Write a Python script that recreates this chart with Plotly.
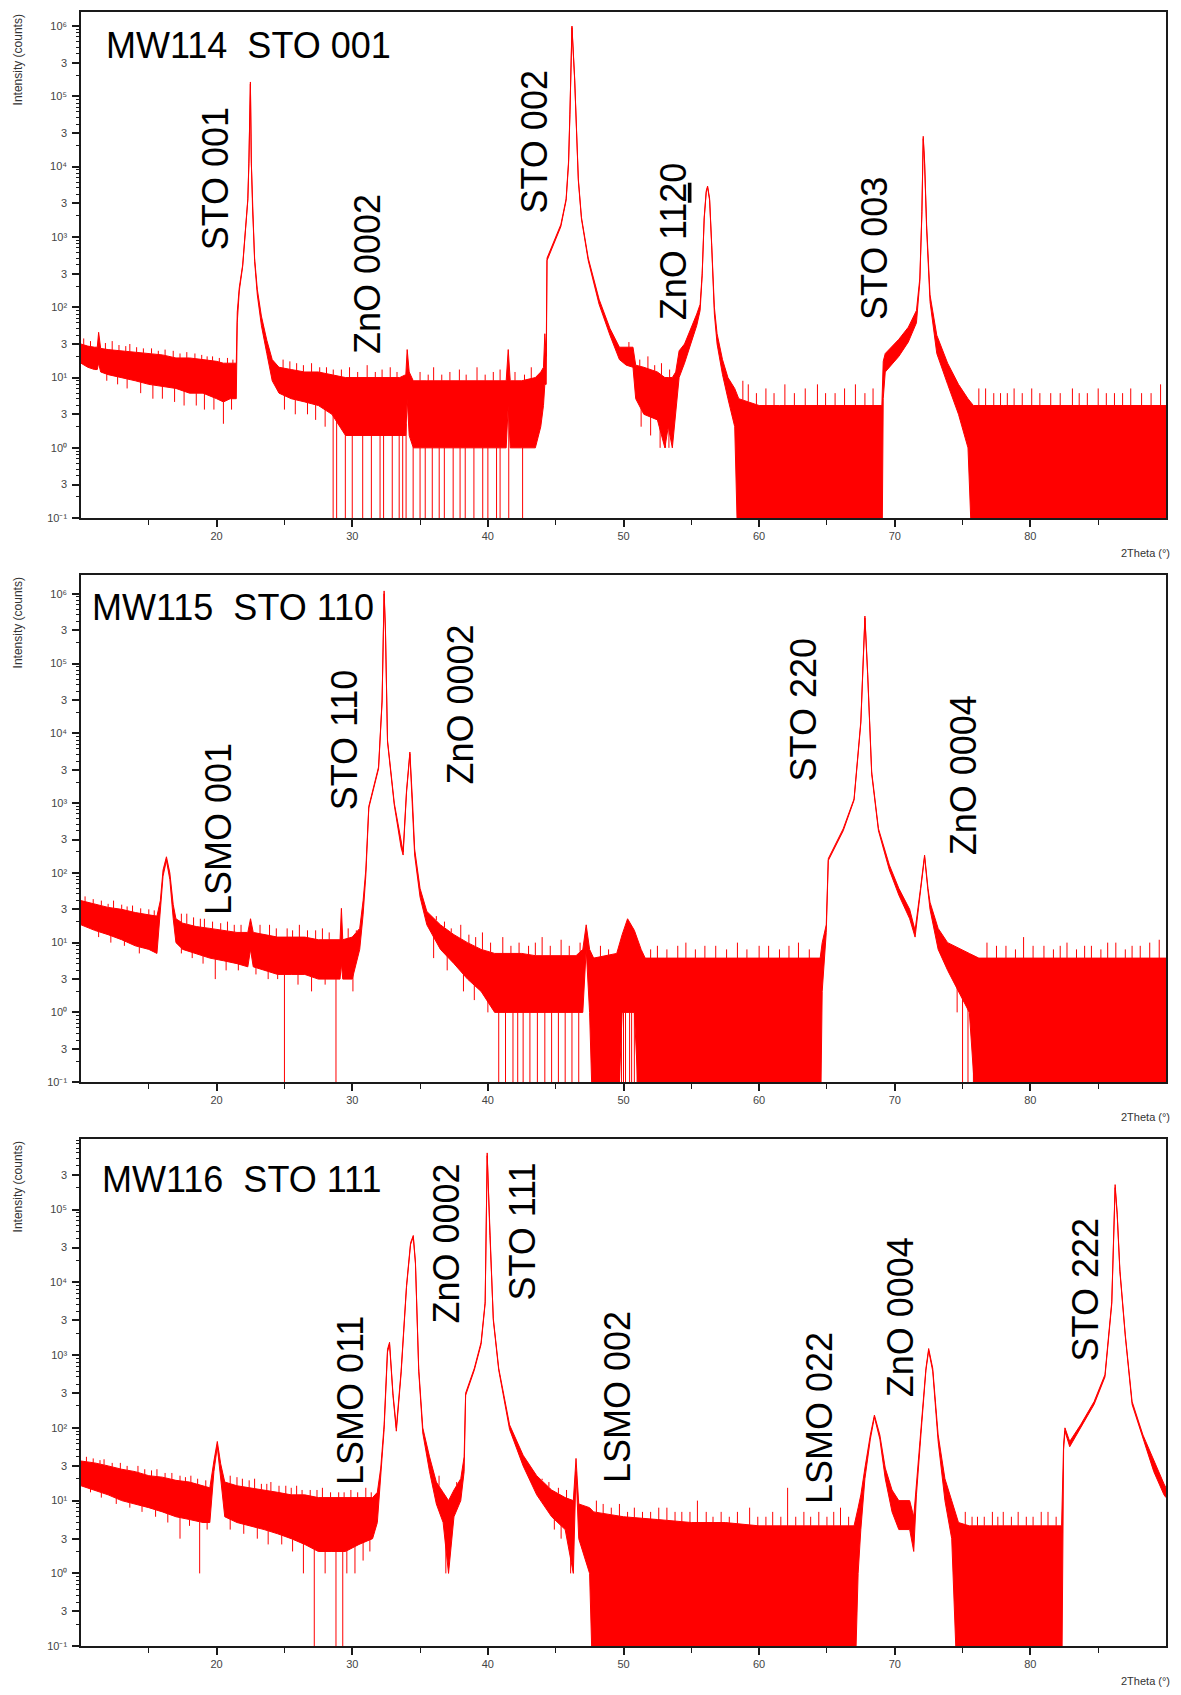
import numpy as np
import plotly.graph_objects as go

W, H = 1181, 1695
RED = "#ff0000"
INK = "#1a1a1a"
FONT = "Liberation Sans, Arial, Helvetica, sans-serif"
FLOOR = 0.01  # channels with zero counts are drawn down past the 10^-1 floor

# ---------------- MW114 on STO (001) ----------------
# theta knots with the upper / lower edge of the recorded counts
mw114_theta = [
    10.0, 10.5, 11.0, 11.2, 11.3, 11.45, 12.0, 13.0, 14.0, 15.0, 16.0, 17.0, 18.0, 19.0, 20.0, 20.5, 21.0, 21.45,
    21.52, 21.67, 21.92, 22.18, 22.3, 22.38, 22.49, 22.56, 22.65, 22.8, 23.0, 23.3, 23.7, 24.1,
    24.6, 25.5, 26.5, 27.5, 28.5, 29.5, 30.5, 31.5, 32.5, 33.5, 33.95, 34.05, 34.2, 34.5, 35.5, 36.5, 37.5, 38.5,
    39.5, 40.5, 41.35, 41.5, 41.65, 42.5, 43.5, 43.9, 44.1, 44.2, 44.3,
    44.36, 44.87, 45.38, 45.77, 45.95, 46.05, 46.2, 46.4, 46.67, 46.9, 47.4, 48.2, 49.0, 49.7,
    50.2, 50.7, 50.9, 51.5, 52.5, 53.05, 53.3, 53.6, 53.85, 54.1, 54.5, 55.0, 55.4,
    55.65, 55.8, 55.95, 56.1, 56.2, 56.35, 56.5, 56.7, 56.9, 57.3, 57.7, 58.2,
    58.5, 60.0, 61.5, 63.0, 64.5, 66.0, 67.5, 69.05,
    69.15, 69.3, 70.3, 71.0, 71.6, 71.85, 72.0, 72.1, 72.2, 72.35, 72.6, 73.1, 73.9, 74.7, 75.4,
    75.8, 78.0, 80.0, 82.0, 84.0, 86.0, 88.0, 90.0,
]
mw114_hi = [
    30, 28, 27, 27, 44, 26, 25, 24, 23, 22, 21, 19, 19, 18, 17, 16, 16, 16,
    85, 190, 400, 1500, 3500, 12000, 160000, 12000, 2500, 500, 180, 75, 34, 18,
    14, 13, 12, 12, 11, 10, 10, 10, 10, 10, 11, 25, 12, 9, 9, 9, 9, 9,
    9, 9, 9, 25, 9, 9, 10, 12, 14, 42, 20,
    500, 870, 1500, 3500, 12000, 60000, 1000000, 180000, 6700, 1900, 500, 130, 50, 27,
    27, 27, 15, 14, 12, 10, 10, 10, 12, 24, 30, 50, 80,
    110, 300, 1900, 4500, 5300, 3500, 800, 100, 42, 18, 10, 7,
    5, 4, 4, 4, 4, 4, 4, 4,
    17, 22, 35, 52, 90, 260, 2300, 27000, 12000, 1500, 150, 40, 16, 8, 5,
    4, 4, 4, 4, 4, 4, 4, 4,
]
mw114_lo = [
    16, 14, 13, 13, 16, 12, 11, 10, 9, 8, 7.5, 7, 6, 6, 5, 4.5, 5, 5,
    60, 170, 380, 1400, 3300, 11000, 150000, 11000, 2300, 450, 150, 55, 22, 9,
    6, 5, 4.5, 4, 3, 1.5, 1.5, 1.5, 1.5, 1.5, 1.5, 5, 1.5, 1, 1, 1, 1, 1,
    1, 1, 1, 4, 1, 1, 1, 2, 4, 8, 8,
    460, 800, 1400, 3300, 11000, 55000, 950000, 170000, 6300, 1800, 460, 110, 40, 18,
    15, 14, 5, 3, 2.5, 1, 2, 1, 3, 10, 16, 32, 55,
    90, 280, 1800, 4300, 5100, 3300, 750, 80, 30, 11, 5, 2,
    0, 0, 0, 0, 0, 0, 0, 0,
    5, 12, 20, 32, 60, 230, 2100, 25000, 11000, 1300, 120, 22, 8, 3, 1,
    0, 0, 0, 0, 0, 0, 0, 0,
]
# isolated channels standing above the background
mw114_spike_theta = [
    10.2, 10.7, 11.8, 12.3, 12.8, 13.3, 13.6, 14.1, 14.6, 15.2, 15.7, 16.2, 16.8, 17.3, 17.8, 18.4, 18.9,
    19.3, 19.7, 20.2, 20.8, 21.2,
    24.9, 25.4, 25.9, 26.4, 27.0, 27.6, 28.1, 28.6, 29.2, 29.8, 30.4, 31.1, 31.7, 32.2, 32.8, 33.3,
    35.0, 35.6, 36.0, 36.6, 37.2, 37.9, 38.4, 39.2, 39.8, 40.4, 40.9, 42.0, 42.7, 43.2,
    50.4, 51.2, 51.8, 52.3, 52.8, 53.4,
    58.8, 59.2, 59.8, 60.5, 61.1, 61.9, 62.6, 63.4, 64.3, 64.9, 65.6, 66.3, 67.1, 67.8, 68.4,
    76.2, 76.7, 77.3, 77.8, 78.3, 78.8, 79.4, 80.1, 80.7, 81.5, 82.2, 83.1, 83.6, 84.2, 85.0, 85.6,
    86.2, 86.8, 87.4, 88.2, 88.9, 89.6,
]
mw114_spike_counts = [
    36, 33, 31, 33, 29, 28, 30, 27, 26, 26, 24, 25, 24, 22, 23, 22, 21,
    20, 20, 19, 19, 18,
    18, 17, 16, 15, 16, 14, 14, 13, 13, 14, 12, 15, 12, 13, 14, 12,
    12, 11, 14, 11, 12, 13, 11, 14, 11, 12, 13, 12, 11, 14,
    32, 18, 20, 15, 16, 13,
    9, 8, 6, 7, 6, 8, 6, 7, 8, 6, 6, 7, 8, 6, 7,
    7, 7, 6, 6, 6, 7, 6, 7, 6, 6, 6, 7, 6, 6, 7, 6,
    6, 6, 7, 6, 6, 8,
]
# channels falling below the background (0 = no counts)
mw114_dip_theta = [
    11.9, 12.7, 13.4, 14.4, 15.3, 16.0, 16.9, 17.6, 18.5, 19.1, 19.8, 20.5, 21.1,
    25.0, 25.8, 26.7, 27.3, 28.0,
    28.59, 28.85, 29.49, 30.0, 30.77, 31.41, 32.05, 32.31, 32.95, 33.46, 33.72, 33.97, 34.49,
    35.0, 35.38, 35.9, 36.41, 36.79, 37.44, 37.95, 38.33, 38.97, 39.62, 40.0, 40.64, 40.9, 41.54, 42.56,
    51.3, 52.0, 52.7, 53.1, 53.35, 53.6,
]
mw114_dip_counts = [
    9, 8, 7, 6, 5, 5, 4.5, 4, 4, 3.5, 3.5, 2.2, 3.5,
    3.5, 3, 3, 2.5, 2,
    0, 0, 0, 0, 0, 0, 0, 0, 0, 0, 0, 0, 0,
    0, 0, 0, 0, 0, 0, 0, 0, 0, 0, 0, 0, 0, 0, 0,
    2, 1.5, 1, 1, 1, 1,
]
mw114_peaks = ["STO 001", "ZnO 0002", "STO 002", "ZnO 11<u>2</u>0", "STO 003"]

# ---------------- MW115 on STO (110) ----------------
mw115_theta = [
    10.0, 11.0, 12.0, 13.0, 14.0, 15.0, 15.6, 15.85,
    16.05, 16.3, 16.55, 16.8, 17.0,
    17.5, 18.5, 19.5, 20.5, 21.5, 22.3, 22.5, 22.7, 23.5, 24.5, 25.5, 26.5, 27.5, 28.5, 29.1, 29.2, 29.3, 30.0, 30.55,
    30.8, 31.0, 31.22, 31.6, 31.94, 32.2, 32.35, 32.45, 32.6, 33.1, 33.6, 33.75, 34.0, 34.25, 34.45, 34.6, 35.0, 35.5, 36.5,
    37.5, 38.5, 39.5, 40.5, 41.5, 42.5, 43.5, 44.5, 45.5, 46.5, 47.0, 47.25, 47.5, 47.8,
    49.5, 49.9, 50.3, 50.8, 51.3, 51.6, 53.0, 55.0, 57.0, 59.0, 61.0, 63.0, 64.5,
    64.65, 64.95, 65.1, 66.2, 67.0, 67.5, 67.8, 68.0, 68.3, 68.8, 69.6, 70.3, 71.1, 71.5, 71.9, 72.2, 72.45, 72.6,
    73.2, 73.9, 75.5,
    76.2, 78.0, 80.0, 82.0, 84.0, 86.0, 88.0, 90.0,
]
mw115_hi = [
    40, 36, 32, 30, 27, 25, 24, 40,
    110, 170, 100, 35, 22,
    19, 17, 16, 15, 14, 14, 22, 14, 13, 12, 12, 12, 11, 11, 11, 31, 11, 12, 16,
    40, 110, 900, 1800, 3300, 30000, 1100000, 300000, 8000, 1000, 260, 200, 1500, 5400, 1000, 220, 60, 28, 18,
    13, 10, 8, 7, 7, 7, 6.5, 6.5, 6.5, 6.5, 8, 18, 8, 6,
    7, 13, 22, 15, 8, 6, 6, 6, 6, 6, 6, 6, 6,
    10, 18, 160, 430, 1150, 15000, 480000, 75000, 2800, 430, 130, 60, 30, 15, 60, 180, 60, 38,
    16, 10, 7,
    6, 6, 6, 6, 6, 6, 6, 6,
]
mw115_lo = [
    18, 15, 13, 11, 9, 8, 7, 25,
    90, 150, 80, 22, 10,
    8, 7, 6, 5.5, 5, 4.5, 8, 4.5, 4, 3.5, 3.5, 3.5, 3, 3, 3, 5, 3, 3, 8,
    25, 90, 850, 1700, 3100, 28000, 1000000, 280000, 7500, 930, 230, 180, 1400, 5100, 900, 180, 45, 18, 8,
    5, 3, 2, 1, 1, 1, 1, 1, 1, 1, 1, 8, 1, 0,
    0, 1, 1, 1, 0, 0, 0, 0, 0, 0, 0, 0, 0,
    2, 14, 150, 400, 1100, 14000, 450000, 70000, 2600, 400, 110, 48, 22, 12, 55, 170, 55, 30,
    8, 4, 1,
    0, 0, 0, 0, 0, 0, 0, 0,
]
mw115_spike_theta = [
    10.3, 10.9, 11.5, 12.0, 12.4, 13.0, 13.4, 13.8, 14.4, 15.0, 15.4,
    17.4, 17.8, 18.3, 18.8, 19.1, 19.7, 20.3, 20.8, 21.3, 21.8, 23.2, 23.9, 24.4, 25.2, 25.6, 26.1, 26.7,
    27.3, 27.8, 28.3, 29.7, 30.3,
    36.2, 36.8, 37.3, 38.0, 38.6, 39.1, 39.6, 40.2, 41.1, 41.7, 42.3, 43.0, 43.5, 44.0, 44.6, 45.4, 46.0, 46.8,
    48.3, 48.9, 52.0, 52.5, 53.2, 54.0, 54.6, 55.3, 56.0, 56.8, 57.6, 58.4, 59.1, 60.0, 60.7, 61.5, 62.2,
    62.9, 63.7,
    76.8, 77.5, 78.2, 78.9, 79.5, 80.2, 81.0, 81.7, 82.2, 82.7, 83.4, 84.0, 84.5, 85.2, 85.7, 86.3, 87.0,
    87.5, 88.1, 88.8, 89.5,
]
mw115_spike_counts = [
    46, 42, 40, 36, 40, 35, 33, 34, 31, 30, 29,
    26, 26, 23, 22, 22, 20, 19, 20, 18, 18, 18, 18, 16, 16, 15, 18, 15,
    15, 16, 14, 16, 15,
    24, 20, 16, 18, 13, 12, 14, 10, 12, 9, 10, 9, 10, 12, 9, 11, 9, 10,
    9, 8, 8, 9, 8, 9, 10, 8, 9, 9, 8, 10, 8, 9, 9, 8, 9,
    10, 8,
    10, 9, 9, 8, 12, 9, 9, 8, 9, 10, 8, 9, 9, 8, 10, 10, 8,
    9, 9, 10, 11,
]
mw115_dip_theta = [
    11.3, 12.2, 13.2, 14.3, 17.4, 18.2, 19.0, 19.9, 20.7, 21.6, 22.9, 23.8, 24.5, 25.0, 26.0, 27.0, 28.0,
    28.8, 30.05, 36.0, 37.0, 38.2, 39.0, 40.0,
    40.8, 41.3, 41.85, 42.2, 42.6, 43.1, 43.65, 44.2, 44.7, 45.2, 45.7, 46.2, 46.7,
    49.7, 49.85, 50.0, 50.15, 50.45, 50.6, 50.8, 51.0, 51.15,
    74.6, 75.0, 75.4, 75.8,
]
mw115_dip_counts = [
    12, 10, 9, 7, 7, 6, 5, 3, 4, 4, 3.5, 3, 3, 0, 2.5, 2, 2.5,
    0, 2, 6, 4, 2, 1.5, 1,
    0, 0, 0, 0, 0, 0, 0, 0, 0, 0, 0, 0, 0,
    0, 0, 0, 0, 0, 0, 0, 0, 0,
    1, 0, 0, 0,
]
mw115_peaks = ["LSMO 001", "STO 110", "ZnO 0002", "STO 220", "ZnO 0004"]

# ---------------- MW116 on STO (111) ----------------
mw116_theta = [
    10.0, 11.0, 12.0, 13.0, 14.0, 15.0, 16.0, 17.0, 18.0, 19.0, 19.5,
    19.8, 20.05, 20.3, 20.6,
    21.5, 22.5, 23.5, 24.5, 25.5, 26.5, 27.5, 28.5, 29.5, 30.5, 31.5, 31.85,
    32.1, 32.35, 32.6, 32.75, 33.0, 33.25, 33.6, 34.0, 34.3, 34.5, 34.66, 34.9, 35.2, 35.7, 36.2, 36.7, 37.1, 37.5,
    38.0, 38.25, 38.36, 39.0, 39.5, 39.8, 39.95, 40.15, 40.4, 40.8, 41.6, 42.6, 43.6, 44.7, 45.7, 46.3, 46.5, 46.7,
    47.5, 47.8, 50.0, 52.5, 55.0, 57.5, 60.0, 62.5, 65.0, 67.0,
    67.3, 67.5, 67.8, 68.2, 68.5, 68.9, 69.3, 69.8, 70.3, 71.1, 71.4, 71.6, 72.0, 72.3, 72.5, 72.8, 73.2, 73.7,
    74.2, 74.7,
    75.5, 77.0, 78.5, 80.0, 81.5, 82.3,
    82.45, 82.55, 82.9, 83.7, 84.7, 85.5, 86.0, 86.25, 86.4, 86.6, 87.0, 87.5, 88.3, 89.1, 89.85, 90.0,
]
mw116_hi = [
    35, 33, 30, 27, 25, 22, 21, 19, 18, 16, 15,
    35, 65, 32, 18,
    16, 15, 14, 13, 12, 12, 11, 11, 11, 11, 11, 13,
    28, 110, 1200, 1500, 300, 100, 600, 9000, 35000, 44000, 19000, 660, 100, 40, 18, 13, 10, 14,
    20, 40, 300, 660, 1500, 5400, 600000, 44000, 3200, 660, 110, 42, 22, 14, 11, 10, 38, 9,
    8, 7, 6, 5.5, 5, 5, 4.5, 4.5, 4.5, 4.5,
    8, 12, 28, 80, 150, 80, 28, 14, 10, 10, 6, 17, 135, 660, 1230, 660, 80, 20,
    10, 5,
    4.5, 4.5, 4.5, 4.5, 4.5, 4.5,
    60, 100, 65, 110, 230, 540, 5400, 220000, 90000, 15000, 1900, 230, 80, 35, 17, 15,
]
mw116_lo = [
    16, 14, 12, 10, 9, 8, 7, 6, 5.5, 5, 5,
    25, 55, 20, 6,
    5, 4.5, 4, 3.5, 3, 2.5, 2, 2, 2, 2.5, 3, 5,
    20, 95, 1100, 1400, 280, 90, 550, 8500, 33000, 42000, 18000, 600, 85, 25, 9, 5, 1, 6,
    10, 25, 280, 620, 1400, 5100, 550000, 41000, 3000, 620, 95, 30, 12, 6, 4, 1, 25, 3,
    1, 0, 0, 0, 0, 0, 0, 0, 0, 0,
    1, 4, 20, 70, 140, 70, 20, 7, 4, 4, 2, 12, 120, 620, 1150, 600, 65, 10,
    3, 0,
    0, 0, 0, 0, 0, 0,
    50, 90, 55, 100, 210, 500, 5000, 200000, 85000, 14000, 1800, 210, 70, 25, 12, 11,
]
mw116_spike_theta = [
    10.4, 10.9, 11.4, 11.7, 12.3, 12.9, 13.4, 14.2, 14.7, 15.2, 15.6, 16.2, 16.7, 17.3, 17.7, 18.1, 18.6, 19.2,
    21.0, 21.5, 21.9, 22.4, 22.8, 23.3, 23.7, 24.0, 24.6, 25.1, 25.5, 25.9, 26.3, 26.9, 27.4, 27.8, 28.4,
    29.0, 29.4, 29.9, 30.4, 31.0, 31.4,
    36.4, 37.7, 43.2, 44.0, 44.5, 45.2, 45.8,
    48.0, 48.5, 49.1, 49.7, 50.3, 50.8, 51.4, 52.0, 52.6, 53.2, 53.8, 54.3, 54.9, 55.45, 56.1, 56.6, 57.2,
    57.8, 58.4, 59.3, 59.9, 60.5, 61.0, 61.6, 62.1, 62.7, 63.3, 63.8, 64.4, 65.0, 65.5, 66.0, 66.6,
    75.2, 75.7, 76.1, 76.6, 77.2, 77.6, 78.0, 78.6, 79.1, 79.7, 80.2, 80.8, 81.3, 81.9,
]
mw116_spike_counts = [
    40, 38, 36, 37, 33, 33, 30, 30, 27, 26, 27, 24, 24, 22, 21, 22, 20, 19,
    22, 21, 20, 19, 20, 17, 17, 18, 16, 16, 15, 16, 14, 14, 14, 15, 13,
    13, 13, 14, 13, 15, 13,
    22, 18, 30, 20, 18, 15, 14,
    10, 9, 8, 9, 7, 8, 7, 7, 8, 8, 7, 7, 7, 10, 7, 6, 7,
    6, 7, 8, 6, 6, 7, 6, 15, 6, 7, 6, 7, 6, 7, 8, 6,
    7, 6, 6, 6, 7, 6, 7, 6, 7, 6, 6, 7, 7, 6,
]
mw116_dip_theta = [
    10.7, 11.5, 12.6, 13.6, 14.5, 15.5, 16.4, 17.3, 18.0, 18.75, 19.3,
    21.0, 22.0, 23.0, 23.8, 24.8, 25.6, 26.4, 27.2, 28.0, 28.8, 29.3, 29.6, 30.2, 30.8, 31.3,
    36.9, 44.9, 45.4, 46.1,
]
mw116_dip_counts = [
    13, 11, 9, 8, 7, 6, 5, 3, 4.5, 1, 4,
    4, 3.5, 3, 2.5, 2.5, 2, 1, 0, 1, 0, 0, 1, 1, 1.5, 2,
    1, 4, 3, 1,
]
mw116_peaks = ["LSMO 011", "ZnO 0002", "STO 111", "LSMO 002", "LSMO 022", "ZnO 0004", "STO 222"]

sample_names = ["MW114\u00a0 STO 001", "MW115\u00a0 STO 110", "MW116\u00a0 STO 111"]

x_tick_values = [20, 30, 40, 50, 60, 70, 80]
x_minor_values = [15, 25, 35, 45, 55, 65, 75, 85]

# ---------------- drawing ----------------
series = [
    (mw114_theta, mw114_hi, mw114_lo, mw114_spike_theta, mw114_spike_counts, mw114_dip_theta, mw114_dip_counts),
    (mw115_theta, mw115_hi, mw115_lo, mw115_spike_theta, mw115_spike_counts, mw115_dip_theta, mw115_dip_counts),
    (mw116_theta, mw116_hi, mw116_lo, mw116_spike_theta, mw116_spike_counts, mw116_dip_theta, mw116_dip_counts),
]
for s in series:
    assert len(s[0]) == len(s[1]) == len(s[2]), (len(s[0]), len(s[1]), len(s[2]))
    assert len(s[3]) == len(s[4]), (len(s[3]), len(s[4]))
    assert len(s[5]) == len(s[6]), (len(s[5]), len(s[6]))


def on_log(counts):
    return [c if c > 0 else FLOOR for c in counts]


def sticks(theta, top, bottom):
    xs, ys = [], []
    for t, a, b in zip(theta, top, bottom):
        xs += [t, t, None]
        ys += [a, b, None]
    return xs, ys


# plot-area boxes in page pixels: (top, bottom), and log10 ranges of the count axes
x_px = (81, 1166)
y_px = [(12, 520), (577, 1086), (1143, 1652)]
y_log_range = [(-1, 6.2), (-1, 6.27), (-1, 5.97)]

fig = go.Figure()
line = dict(color=RED, width=1)
for i, (th, hi, lo, sth, sct, dth, dct) in enumerate(series):
    sx = "" if i == 0 else str(i + 1)
    ax = dict(xaxis="x" + sx, yaxis="y" + sx, showlegend=False, hoverinfo="skip")
    lo_p = on_log(lo)
    hi_p = on_log(hi)
    fig.add_trace(go.Scatter(x=th, y=lo_p, mode="lines", line=line, **ax))
    fig.add_trace(go.Scatter(x=th, y=hi_p, mode="lines", line=line, fill="tonexty", fillcolor=RED, **ax))
    base_hi = np.interp(sth, th, hi_p)
    xs, ys = sticks(sth, sct, base_hi)
    fig.add_trace(go.Scatter(x=xs, y=ys, mode="lines", line=line, **ax))
    base_lo = np.interp(dth, th, lo_p)
    xs, ys = sticks(dth, base_lo, on_log(dct))
    fig.add_trace(go.Scatter(x=xs, y=ys, mode="lines", line=line, **ax))

layout = dict(
    width=W, height=H, autosize=False,
    margin=dict(l=0, r=0, t=0, b=0),
    paper_bgcolor="white", plot_bgcolor="white",
    font=dict(family=FONT, color=INK),
)

SUPERSCRIPT = str.maketrans("-0123456789", "⁻⁰¹²³⁴⁵⁶⁷⁸⁹")
tick_font = dict(family=FONT, size=11, color="#444444")
for i in range(3):
    sx = "" if i == 0 else str(i + 1)
    top, bot = y_px[i]
    lo_e, hi_e = y_log_range[i]
    layout["xaxis" + sx] = dict(
        domain=[x_px[0] / W, x_px[1] / W], anchor="y" + sx, range=[10, 90],
        tickmode="array", tickvals=x_tick_values, ticktext=[str(v) for v in x_tick_values],
        ticks="outside", ticklen=7, tickwidth=1.5, tickcolor=INK,
        minor=dict(tickmode="array", tickvals=x_minor_values, ticks="outside", ticklen=5, tickwidth=1, tickcolor=INK),
        showline=True, linecolor=INK, linewidth=1.5, mirror=True,
        showgrid=False, zeroline=False, tickfont=tick_font,
    )
    major_v, major_t, minor_v = [], [], []
    for e in range(-1, 7):
        for m, label in ((1, "10" + str(e).translate(SUPERSCRIPT)), (3, "3")):
            v = m * 10.0 ** e
            if np.log10(v) <= hi_e:
                major_v.append(v)
                major_t.append(label)
        minor_v += [m * 10.0 ** e for m in (2, 4, 5, 6, 7, 8, 9) if np.log10(m * 10.0 ** e) <= hi_e]
    layout["yaxis" + sx] = dict(
        domain=[1 - bot / H, 1 - top / H], anchor="x" + sx, type="log", range=[lo_e, hi_e],
        tickmode="array", tickvals=major_v, ticktext=major_t,
        ticks="outside", ticklen=7, tickwidth=1.5, tickcolor=INK,
        minor=dict(tickmode="array", tickvals=minor_v, ticks="outside", ticklen=3, tickwidth=1, tickcolor=INK),
        showline=True, linecolor=INK, linewidth=1.5, mirror=True,
        showgrid=False, zeroline=False, tickfont=tick_font, ticklabelstandoff=3,
    )


def page(px, py):
    return px / W, 1 - py / H


annotations = []
# peak labels: page-pixel centres of each rotated label
label_px = [
    [(215, 180), (367, 275), (534, 143), (673, 243), (874, 250)],
    [(218, 832), (344, 743), (460, 707), (803, 713), (963, 778)],
    [(350, 1406), (447, 1248), (523, 1236), (617, 1402), (820, 1423), (900, 1322), (1085, 1295)],
]
peak_names = [mw114_peaks, mw115_peaks, mw116_peaks]
for names, spots in zip(peak_names, label_px):
    for name, (px, py) in zip(names, spots):
        x, y = page(px, py)
        annotations.append(dict(
            text=name, x=x, y=y, xref="paper", yref="paper", xanchor="center", yanchor="middle",
            textangle=-90, showarrow=False, font=dict(family=FONT, size=36, color="black"),
        ))

title_px = [(104, 46), (90, 610), (100, 1184)]
for name, (px, py) in zip(sample_names, title_px):
    x, y = page(px, py)
    annotations.append(dict(
        text=name, x=x, y=y, xref="paper", yref="paper", xanchor="left", yanchor="middle",
        showarrow=False, font=dict(family=FONT, size=36, color="black"),
    ))

for i, (top, bot) in enumerate(y_px):
    x, y = page(18, top + 1)
    annotations.append(dict(
        text="Intensity (counts)", x=x, y=y, xref="paper", yref="paper", xanchor="center", yanchor="top",
        textangle=-90, showarrow=False, font=dict(family=FONT, size=12, color="#333333"),
    ))
    x, y = page(1172, bot + 35)
    annotations.append(dict(
        text="2Theta (°)", x=x, y=y, xref="paper", yref="paper", xanchor="right", yanchor="middle",
        showarrow=False, font=dict(family=FONT, size=11, color="#333333"),
    ))

layout["annotations"] = annotations
fig.update_layout(**layout)
fig.write_html("out.html", config={"displayModeBar": False})
